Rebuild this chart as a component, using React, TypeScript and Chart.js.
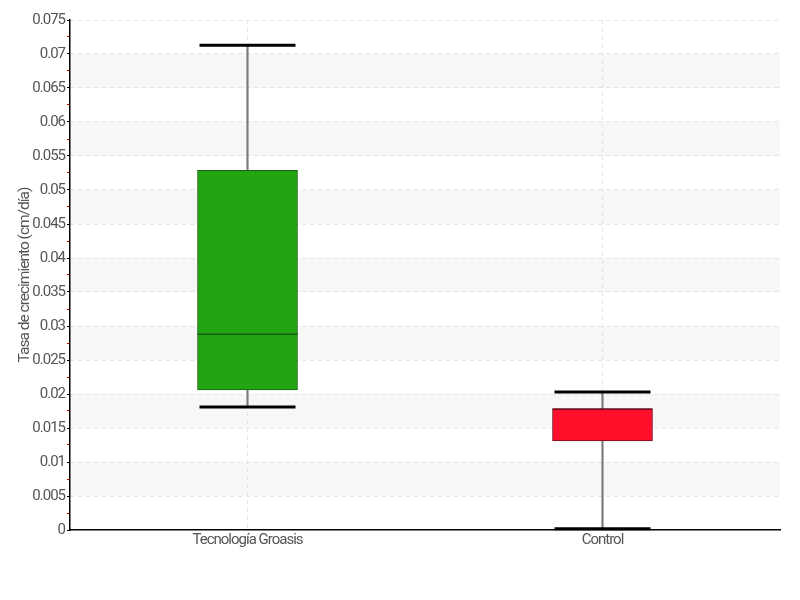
import React, { useEffect, useRef } from "react";
import { Chart, registerables } from "chart.js";

Chart.register(...registerables);

const categories = ["Tecnología Groasis", "Control"];
const whiskerMin = [0.0181, 0.0002];
const quartile1 = [0.0206, 0.0131];
const medians = [0.0288, 0.0178];
const quartile3 = [0.0529, 0.0178];
const whiskerMax = [0.0713, 0.0203];
const boxColors = ["#21a511", "#ff0f2a"];
const boxBorders = ["#1c5c14", "#6e1020"];
const yTickLabels = ["0", "0.005", "0.01", "0.015", "0.02", "0.025", "0.03", "0.035", "0.04", "0.045", "0.05", "0.055", "0.06", "0.065", "0.07", "0.075"];
const yAxisTitle = "Tasa de crecimiento (cm/día)";

const FONT = "Roboto, 'DejaVu Sans', sans-serif";
const TEXT = "#555555";

const majorValues = yTickLabels.map((s) => parseFloat(s));

const spacingPlugin = {
  id: "spacing",
  afterInit(chart: any) {
    chart.ctx.letterSpacing = "-1px";
  },
  beforeDraw(chart: any) {
    chart.ctx.letterSpacing = "-1px";
  },
};

const bandsPlugin = {
  id: "bands",
  beforeDraw(chart: any) {
    const { ctx, chartArea, scales } = chart;
    const y = scales.y;
    ctx.save();
    ctx.fillStyle = "#f7f7f7";
    for (let i = 1; i < majorValues.length - 1; i += 2) {
      const top = y.getPixelForValue(majorValues[i + 1]);
      const bottom = y.getPixelForValue(majorValues[i]);
      ctx.fillRect(chartArea.left, top, chartArea.right - chartArea.left, bottom - top);
    }
    ctx.restore();
  },
};

export default function App() {
  const ref = useRef<HTMLCanvasElement | null>(null);

  useEffect(() => {
    if (!ref.current) return;
    const allTicks: number[] = [];
    for (let i = 0; i < majorValues.length; i++) {
      allTicks.push(majorValues[i]);
      if (i < majorValues.length - 1) allTicks.push((majorValues[i] + majorValues[i + 1]) / 2);
    }
    const isMajor = (v: number) => majorValues.some((m) => Math.abs(m - v) < 1e-9);
    const labelFor = (v: number) => {
      const idx = majorValues.findIndex((m) => Math.abs(m - v) < 1e-9);
      return idx >= 0 ? yTickLabels[idx] : "";
    };

    const chart = new Chart(ref.current, {
      type: "bar",
      data: {
        labels: categories,
        datasets: [
          {
            type: "line" as any,
            label: "max",
            data: whiskerMax,
            showLine: false,
            pointStyle: "line",
            pointRadius: 48,
            pointHoverRadius: 48,
            pointBorderWidth: 3,
            pointBorderColor: "#000000",
            borderColor: "#000000",
            order: 0,
            clip: false,
          } as any,
          {
            type: "line" as any,
            label: "min",
            data: whiskerMin,
            showLine: false,
            pointStyle: "line",
            pointRadius: 48,
            pointHoverRadius: 48,
            pointBorderWidth: 3,
            pointBorderColor: "#000000",
            borderColor: "#000000",
            order: 0,
            clip: false,
          } as any,
          {
            type: "line" as any,
            label: "median",
            data: medians,
            showLine: false,
            pointStyle: "line",
            pointRadius: 50,
            pointHoverRadius: 50,
            pointBorderWidth: 1.5,
            pointBorderColor: boxBorders,
            borderColor: boxBorders,
            order: 1,
          } as any,
          {
            label: "box",
            data: quartile1.map((q, i) => [q, quartile3[i]]),
            backgroundColor: boxColors,
            borderColor: boxBorders,
            borderWidth: 1,
            borderSkipped: false,
            barThickness: 100,
            grouped: false,
            order: 2,
          } as any,
          {
            label: "whisker",
            data: whiskerMin.map((m, i) => [m, whiskerMax[i]]),
            backgroundColor: "#7a7a7a",
            borderWidth: 0,
            barThickness: 1.5,
            grouped: false,
            order: 3,
          } as any,
        ],
      },
      options: {
        animation: false,
        responsive: false,
        maintainAspectRatio: false,
        events: [],
        layout: { autoPadding: false, padding: { top: 20, right: 20, left: 0, bottom: 0 } },
        plugins: {
          legend: { display: false },
          tooltip: { enabled: false },
        },
        scales: {
          x: {
            type: "category",
            offset: true,
            border: { display: true, color: "#000000", width: 1.5, dash: [4, 4] },
            grid: {
              offset: false,
              drawTicks: false,
              color: "#e3e3e3",
              lineWidth: 1,
            } as any,
            ticks: {
              color: TEXT,
              font: { family: FONT, size: 15 },
              padding: 1,
            },
            afterFit(scale: any) {
              scale.height = 70;
            },
          } as any,
          y: {
            type: "linear",
            min: 0,
            max: 0.075,
            border: { display: true, color: "#000000", width: 1.5, dash: [4, 4] },
            grid: {
              color: (ctx: any) => (ctx.tick && isMajor(ctx.tick.value) && ctx.tick.value > 0 ? "#e3e3e3" : "rgba(0,0,0,0)"),
              tickColor: (ctx: any) => (ctx.tick && isMajor(ctx.tick.value) ? "#000000" : "#dd0000"),
              tickLength: 3,
              lineWidth: 1,
              tickBorderDash: [],
            } as any,
            afterBuildTicks(scale: any) {
              scale.ticks = allTicks.map((v) => ({ value: v }));
            },
            ticks: {
              autoSkip: false,
              color: TEXT,
              font: { family: FONT, size: 15 },
              padding: 2,
              callback: (v: any) => labelFor(Number(v)),
            },
            title: {
              display: true,
              text: yAxisTitle,
              color: TEXT,
              font: { family: FONT, size: 15.5 },
              padding: { top: 16, bottom: 0 },
            },
            afterFit(scale: any) {
              scale.width = 70;
            },
          } as any,
        },
      },
      plugins: [spacingPlugin, bandsPlugin],
    });

    return () => chart.destroy();
  }, []);

  return (
    <div style={{ position: "fixed", left: 0, top: 0, width: 800, height: 600, background: "#ffffff" }}>
      <canvas ref={ref} width={800} height={600} style={{ width: 800, height: 600 }} />
    </div>
  );
}
